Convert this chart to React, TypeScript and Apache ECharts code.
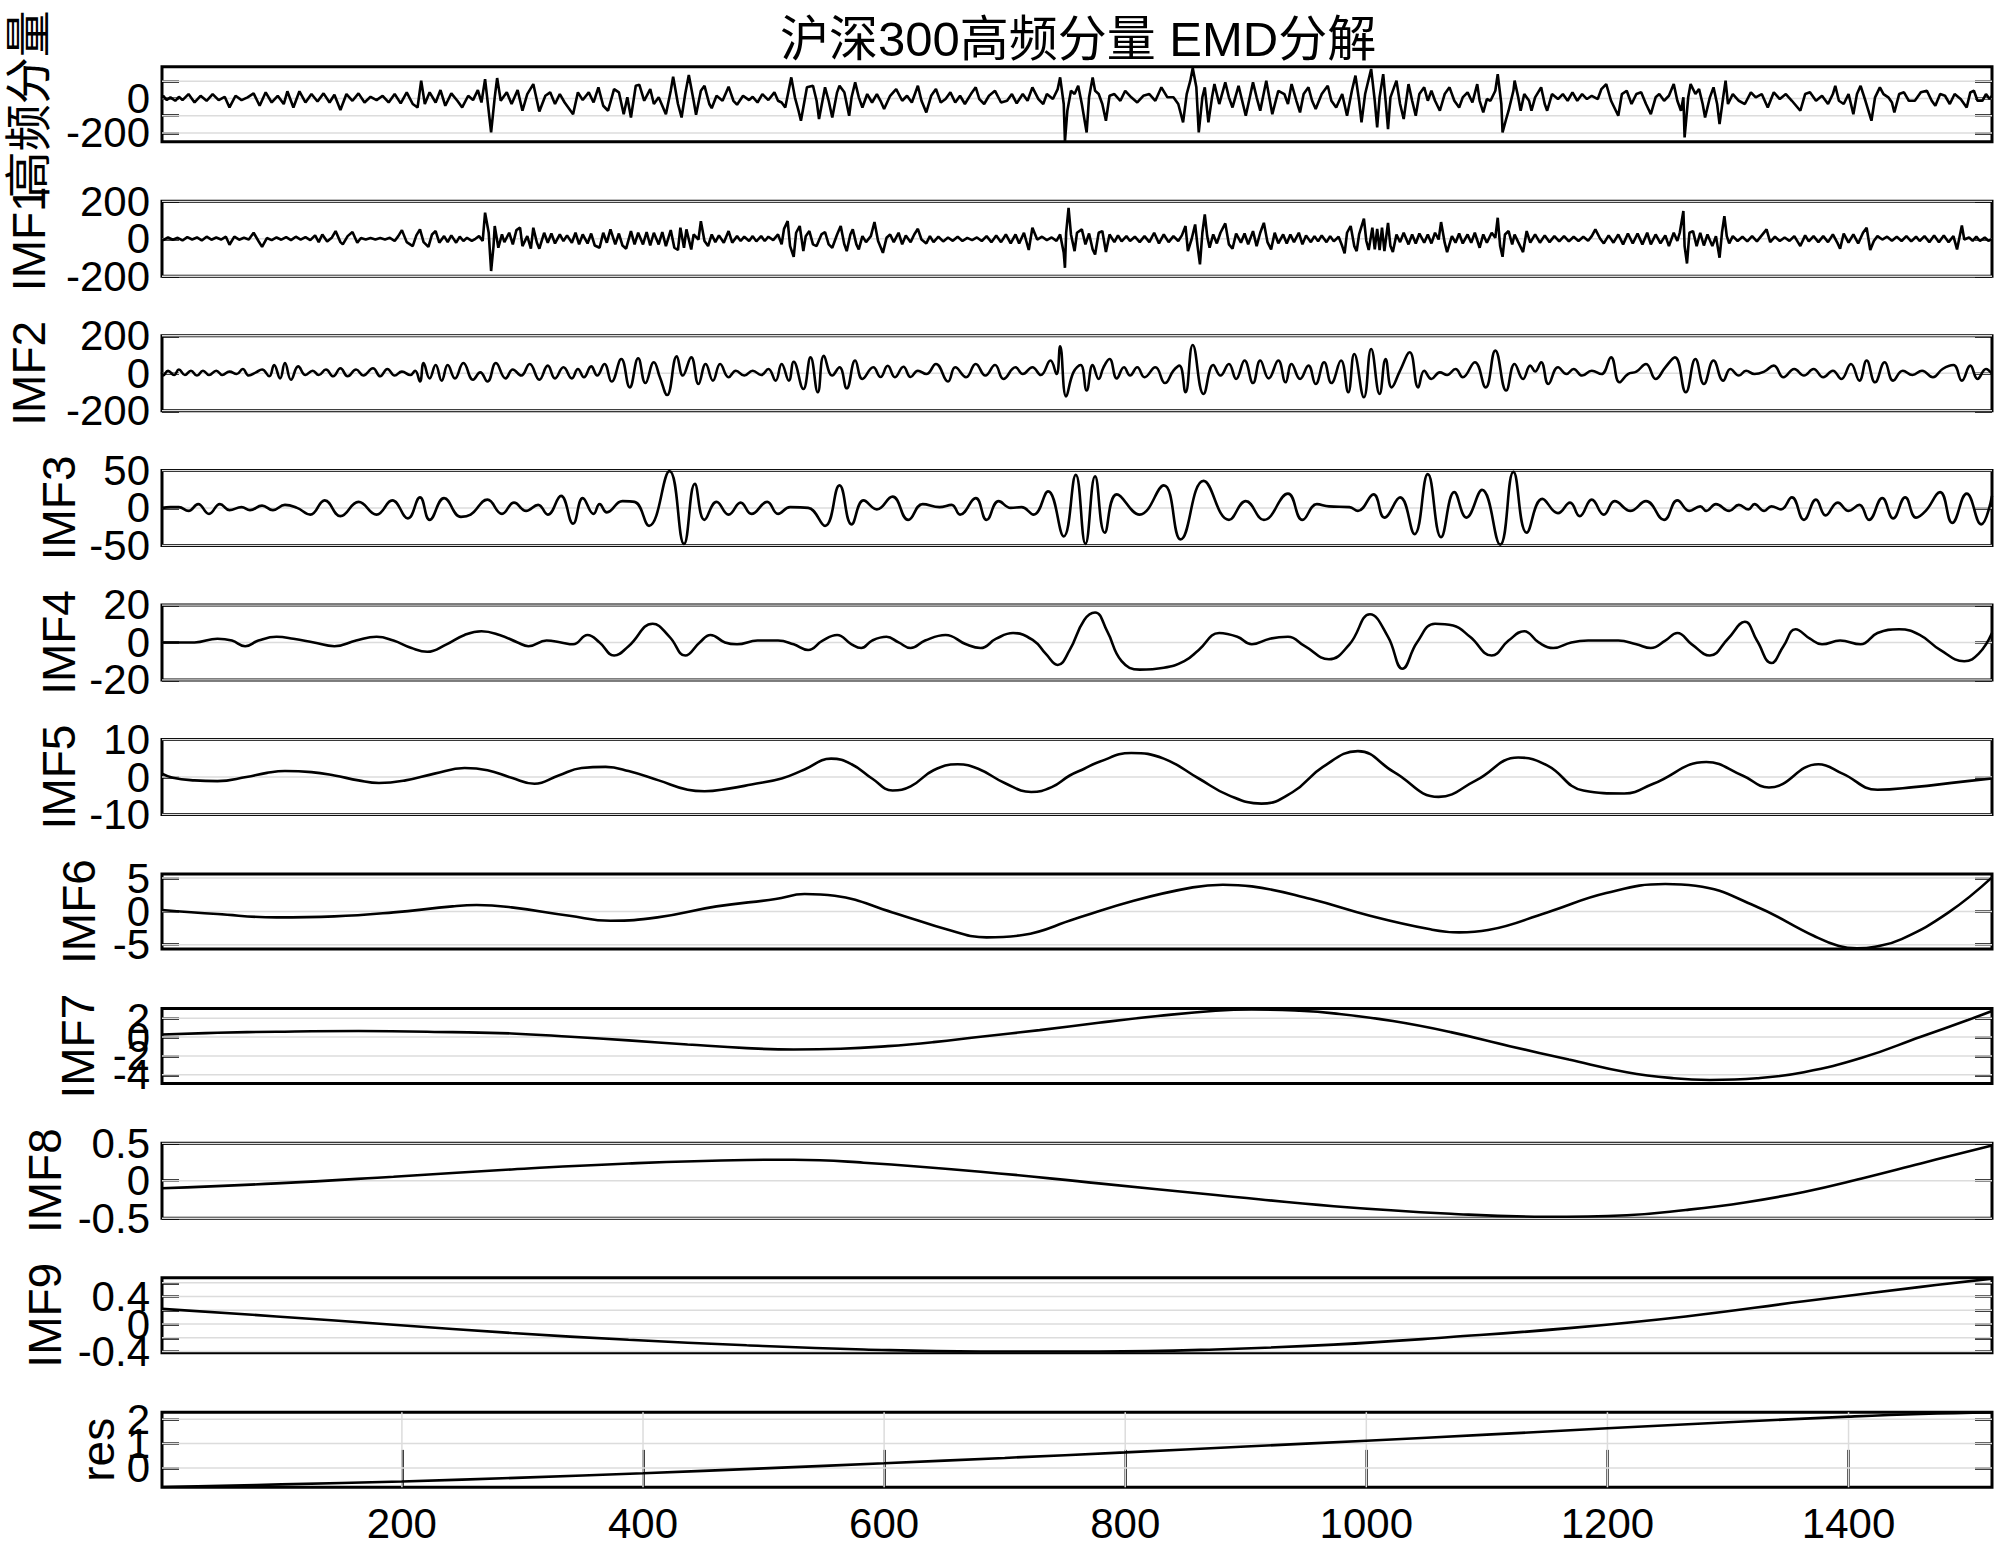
import React, { useEffect, useRef } from "react";
import * as echarts from "echarts";

// ---------------- data ----------------
const TITLE = "沪深300高频分量 EMD分解";
const NAMES = ["高频分量", "IMF1", "IMF2", "IMF3", "IMF4", "IMF5", "IMF6", "IMF7", "IMF8", "IMF9", "res"];

const HF = [
  [1,0],[2,16],[5,-9],[8,7],[12,-13],[15,10],[18,-9],[23,26],[28,-23],[33,16],[38,-13],[43,26],[48,-9],[53,10],[57,-52],[62,16],[67,-9],[72,7],[77,30],[82,-42],[87,36],[92,-23],[97,16],[102,-32],[105,42],[110,-52],[115,42],[120,-23],[125,26],[130,-17],[135,30],[140,-23],[144,22],[149,-67],[154,26],[159,-13],[164,30],[169,-23],[174,10],[179,-9],[184,16],[189,-23],[194,26],[199,-28],[204,36],[209,-32],[213,-52],[216,104],[219,-32],[223,36],[228,-23],[232,49],[236,-42],[241,30],[246,-13],[250,-52],[255,16],[259,-9],[263,49],[266,-23],[269,113],[274,-197],[277,7],[279,119],[282,-13],[287,36],[291,-32],[296,49],[300,-71],[304,26],[309,84],[314,-75],[319,16],[323,36],[327,-32],[331,26],[335,-23],[342,-91],[346,36],[350,-9],[355,36],[359,-23],[363,65],[367,-42],[371,-71],[376,55],[380,36],[384,-91],[387,7],[390,-110],[394,74],[397,80],[401,-13],[406,55],[409,-32],[413,7],[419,-91],[423,45],[425,127],[429,-32],[432,-110],[435,26],[438,137],[442,-13],[444,-95],[448,45],[451,74],[455,-32],[457,-56],[461,16],[466,-13],[471,69],[475,-13],[478,-36],[483,16],[488,-9],[491,10],[495,-23],[499,26],[504,-9],[509,36],[512,-13],
  [515,-23],[518,-52],[523,123],[526,7],[529,-71],[531,-129],[536,65],[541,74],[544,-13],[546,-119],[551,65],[554,-13],[557,-110],[561,36],[563,74],[567,36],[571,-100],[573,7],[576,94],[579,7],[582,-52],[586,26],[590,-23],[594,26],[597,-13],[600,-61],[605,16],[610,55],[615,-13],[619,16],[623,-23],[628,74],[631,-13],[635,-81],[639,16],[643,55],[647,-23],[651,-3],[655,36],[659,-23],[663,16],[667,-32],[672,26],[676,65],[679,-3],[683,-32],[687,16],[692,45],[697,-23],[702,-13],[706,26],[710,-28],[715,26],[719,-13],[723,65],[728,-3],[732,-32],[735,26],[740,-3],[744,55],[746,123],[749,-32],[750,-250],[752,-71],[755,45],[758,26],[761,74],[764,-32],[768,-197],[770,7],[773,123],[775,45],[778,26],[781,-32],[784,-129],[787,16],[791,26],[796,-13],[800,45],[805,7],[810,-23],[815,16],[820,26],[825,-13],[830,65],[835,7],[840,7],[844,-32],[848,-139],[851,26],[854,104],[856,177],[859,65],[861,-197],[864,7],[866,65],[869,-139],[872,7],[874,84],[878,-32],[883,94],[886,7],[889,-52],[894,74],[897,-13],[900,-100],[906,94],[909,7],[912,-71],[917,104],[920,-13],[922,-91],[927,45],[932,26],[935,-32],[938,84],[942,-13],[945,-81],[948,26],[952,65],[955,-13],[958,-61],[963,26],[968,74],[971,-13],[975,-52],[980,26],[984,-100],[988,45],[991,133],[994,-13],[996,-139],[999,26],[1004,172],[1007,-13],[1009,-168],[1011,7],[1014,142],[1016,-13],[1018,-178],
  [1020,7],[1025,104],[1028,-32],[1031,-119],[1035,84],[1038,-13],[1041,-100],[1044,26],[1048,65],[1051,-13],[1054,45],[1057,-13],[1061,-71],[1065,26],[1069,65],[1073,-13],[1077,-52],[1080,7],[1084,36],[1088,-23],[1092,84],[1094,-13],[1097,-81],[1100,-3],[1103,-13],[1107,45],[1109,142],[1112,-32],[1113,-197],[1116,-119],[1118,-71],[1122,45],[1123,104],[1126,7],[1128,-71],[1131,26],[1135,-13],[1137,-71],[1140,7],[1145,65],[1148,-32],[1150,-71],[1154,26],[1159,-3],[1163,26],[1167,-13],[1171,36],[1175,-13],[1179,26],[1183,-3],[1187,16],[1192,-3],[1195,55],[1199,84],[1203,-13],[1209,-100],[1212,26],[1216,45],[1220,-32],[1224,26],[1228,36],[1232,-32],[1236,-91],[1240,7],[1243,26],[1247,-13],[1251,16],[1255,84],[1258,-13],[1261,-71],[1263,7],[1264,-226],[1267,7],[1269,84],[1273,26],[1276,55],[1279,-32],[1281,-110],[1285,7],[1288,65],[1291,-32],[1293,-149],[1296,7],[1298,104],[1300,-32],[1304,26],[1309,-13],[1314,-32],[1319,36],[1323,7],[1328,26],[1333,-52],[1338,36],[1343,-3],[1348,26],[1353,-13],[1360,-71],[1364,26],[1368,36],[1373,-13],[1378,16],[1383,-32],[1387,26],[1389,74],[1392,-13],[1396,-32],[1400,26],[1404,-91],[1407,26],[1410,74],[1414,-13],[1419,-129],[1422,7],[1426,65],[1429,26],[1433,7],[1436,-23],[1438,-81],[1442,26],[1446,36],[1450,-13],[1455,-13],[1460,36],[1465,45],[1469,-13],[1472,-42],[1476,26],[1480,16],[1484,-32],[1488,26],[1493,-3],[1498,-52],[1501,36],[1504,45],[1507,-13],[1511,-13],[1514,26],[1517,-3],[1519,16]
];

const IMF1 = [
  [1,0],[2,-7],[6,7],[10,-5],[14,5],[18,-9],[22,9],[26,-4],[30,7],[34,-9],[38,11],[42,-5],[46,7],[50,-4],[54,11],[57,-32],[61,11],[65,-5],[69,5],[73,-4],[77,32],[81,-12],[84,-43],[88,4],[92,-7],[96,7],[100,-5],[104,9],[108,-7],[112,11],[116,-5],[120,9],[124,-7],[128,18],[131,-18],[134,23],[138,-14],[142,7],[145,41],[149,-18],[151,-30],[155,14],[159,36],[163,-21],[166,4],[170,-4],[174,4],[178,-4],[182,4],[186,-4],[190,5],[194,-12],[197,14],[200,46],[204,-18],[209,-39],[212,18],[215,50],[218,-18],[222,-43],[225,23],[228,41],[231,-21],[235,14],[238,-18],[241,18],[245,-21],[248,11],[251,-12],[254,5],[258,-11],[261,0],[264,14],[267,-12],[269,139],[272,32],[274,-172],[276,-39],[277,68],[280,-48],[283,23],[285,-18],[289,32],[292,-30],[295,46],[298,59],[300,-39],[304,14],[307,-53],[309,59],[312,-21],[314,-53],[318,32],[321,-21],[324,28],[327,-25],[331,23],[334,-12],[337,18],[341,-21],[344,32],[347,-30],[350,23],[354,-25],[357,28],[360,-36],[364,-48],[367,32],[370,-21],[373,50],[377,-30],[380,28],[383,-36],[386,-53],[390,41],[393,-30],[396,32],[400,-30],[403,36],[406,-36],[409,32],[413,-30],[416,36],[419,-39],[423,46],[426,-48],[429,-60],[431,59],[434,-48],[436,50],[440,-57],[442,23],[446,-4],[448,94],[451,-12],[454,-39],[457,23],[460,-18],[463,18],[467,-21],[471,41],[474,-21],[478,14],[481,-12],[484,11],[488,-12],[491,14],[494,-14],[498,14],[501,-12],[504,11],
  [508,-7],[512,23],[515,-30],[517,53],[520,94],[522,-39],[525,-96],[527,32],[530,68],[533,-66],[535,14],[538,41],[541,-30],[544,-39],[548,23],[551,36],[554,-30],[557,-48],[561,23],[564,68],[567,-30],[569,-66],[572,23],[574,50],[577,-30],[579,-57],[582,14],[585,-18],[589,14],[592,89],[595,-12],[599,-75],[602,5],[605,23],[608,-18],[612,32],[615,-30],[618,18],[622,-18],[625,23],[628,53],[631,-4],[635,-25],[638,14],[641,-18],[645,11],[649,-14],[653,7],[657,-11],[661,11],[665,-12],[669,5],[673,-7],[677,7],[681,-12],[685,14],[689,-18],[693,18],[697,-18],[701,23],[705,-25],[709,23],[712,-25],[716,32],[720,-60],[723,59],[727,-4],[731,11],[735,-7],[739,7],[743,-11],[746,23],[749,-75],[750,-155],[751,32],[753,165],[755,23],[758,-66],[760,32],[764,50],[767,-30],[770,28],[773,-57],[775,-84],[778,32],[781,41],[784,-71],[787,23],[791,-18],[794,18],[797,-14],[801,14],[804,-12],[808,11],[812,-18],[816,14],[820,-18],[824,32],[828,-25],[832,23],[836,-18],[840,14],[844,-12],[847,18],[850,68],[852,-66],[855,-4],[858,76],[860,-39],[862,-137],[864,32],[866,130],[868,14],[870,-48],[873,23],[876,-25],[879,32],[883,82],[886,-30],[889,-53],[892,28],[896,-21],[899,28],[902,-30],[906,41],[909,-39],[912,32],[915,85],[918,-18],[921,-57],[924,32],[927,-25],[931,23],[934,-25],[937,23],[940,-18],[944,32],[947,-30],[950,18],[954,-18],[957,14],[960,-14],[963,18],[967,-18],[970,14],[973,-14],[977,11],[980,-39],[982,-78],[984,32],[987,68],[990,-39],[992,-66],[994,23],[998,107],[1000,-12],[1002,-60],[1005,59],[1007,-57],[1009,53],[1011,-60],
  [1013,59],[1015,-66],[1018,85],[1020,-39],[1022,-71],[1025,23],[1028,-18],[1031,32],[1035,-30],[1038,23],[1041,-25],[1044,28],[1048,-21],[1051,23],[1054,-25],[1057,32],[1060,-4],[1062,89],[1065,-21],[1067,-71],[1071,14],[1074,-21],[1077,28],[1080,-25],[1084,23],[1087,-21],[1090,32],[1094,-48],[1097,23],[1100,-21],[1104,32],[1107,5],[1109,112],[1111,-39],[1113,-96],[1115,23],[1118,41],[1121,-30],[1123,23],[1126,-18],[1130,-71],[1133,41],[1136,-21],[1140,23],[1144,-21],[1148,18],[1152,-18],[1156,14],[1160,-14],[1164,14],[1168,-14],[1172,11],[1176,-12],[1180,11],[1184,-11],[1187,14],[1190,50],[1194,0],[1197,-25],[1201,18],[1205,-21],[1209,23],[1213,-30],[1217,28],[1221,-25],[1225,28],[1229,-30],[1233,32],[1236,-30],[1240,23],[1244,-25],[1248,18],[1251,-39],[1255,32],[1258,-12],[1260,32],[1263,148],[1264,-39],[1266,-132],[1268,32],[1271,41],[1274,-39],[1277,32],[1280,-36],[1283,23],[1287,-39],[1290,14],[1293,-101],[1295,32],[1297,121],[1299,14],[1301,-25],[1304,14],[1308,-12],[1312,11],[1316,-14],[1320,14],[1324,-14],[1328,18],[1332,50],[1335,-18],[1339,11],[1343,-12],[1347,7],[1351,-11],[1355,14],[1358,-18],[1360,-39],[1364,18],[1367,-14],[1371,14],[1375,-18],[1379,14],[1383,-18],[1387,23],[1391,-25],[1393,-53],[1396,28],[1400,-21],[1404,23],[1408,-25],[1412,32],[1415,59],[1418,-60],[1421,-12],[1424,14],[1428,-4],[1432,11],[1436,-11],[1440,11],[1444,-12],[1448,14],[1452,-14],[1456,11],[1459,-12],[1463,14],[1467,-18],[1471,18],[1475,-18],[1479,18],[1483,-18],[1487,14],[1490,-57],[1494,71],[1496,-4],[1500,7],[1503,-11],[1506,11],[1509,-12],[1513,7],[1516,-11],[1519,0]
];

const IMF2 = [
  [1,5],[2,-12],[6,14],[11,-9],[15,20],[20,-9],[25,14],[30,-12],[35,14],[40,-9],[46,14],[51,-9],[57,9],[63,-4],[68,23],[73,-12],[79,5],[84,20],[90,-16],[94,44],[99,-27],[103,55],[108,-34],[114,37],[120,-9],[126,14],[131,-9],[137,20],[143,-16],[149,27],[155,-16],[162,20],[168,-12],[176,27],[182,-16],[188,23],[194,-12],[200,9],[207,-9],[211,14],[215,-44],[218,55],[223,-27],[228,44],[233,-39],[238,44],[244,-27],[251,55],[259,-34],[265,5],[271,-44],[278,55],[286,-27],[292,20],[299,-12],[306,50],[314,-34],[321,41],[327,-27],[334,32],[341,-27],[346,23],[351,-21],[357,37],[362,-12],[368,50],[374,-44],[382,76],[389,-75],[396,80],[402,-52],[409,59],[414,-21],[420,-116],[428,91],[433,-12],[440,85],[446,-57],[452,50],[458,-39],[464,50],[471,-21],[477,14],[484,-12],[491,14],[498,-9],[504,23],
  [510,-39],[515,50],[521,-39],[525,62],[533,-84],[539,85],[545,-101],[550,94],[557,-12],[563,32],[569,-80],[576,68],[582,-30],[591,32],[597,-20],[603,40],[609,-21],[616,35],[622,-20],[628,14],[635,-4],[643,50],[653,-44],[659,32],[668,-21],[676,50],[684,-12],[692,44],[699,-30],[709,32],[715,-4],[723,32],[730,-9],[738,68],[743,-4],[746,144],[751,-123],[757,5],[763,44],[768,-92],[773,44],[778,-30],[782,32],[787,76],[793,-27],[799,32],[804,-12],[810,32],[816,-21],[825,32],[833,-52],[840,14],[845,41],[850,-101],[856,151],[865,-110],[873,44],[879,-12],[886,50],[892,-30],[899,68],[906,-52],[912,68],[919,-27],[927,68],[933,-48],[938,50],[945,-30],[952,41],[958,-57],[965,59],[971,-52],[979,68],[985,-101],[990,103],[998,-128],[1004,130],[1011,-110],[1016,76],[1021,-75],[1028,14],[1036,112],[1043,-75],[1048,14],[1054,-30],[1061,5],[1067,-9],[1074,23],[1080,-21],[1090,59],[1099,-75],[1107,121],[1116,-92],[1123,50],[1130,-30],[1136,41],[1140,10],[1145,59],[1151,-57],[1159,32],[1166,-4],[1172,23],[1179,-12],[1187,14],[1195,-4],[1203,85],[1210,-48],[1217,-4],[1224,9],[1232,50],[1240,-30],[1248,32],[1256,85],[1265,-101],[1273,76],[1280,-57],[1288,68],[1296,-39],[1302,23],[1309,-12],[1315,14],[1322,-4],[1330,9],[1338,41],[1346,-21],[1355,23],[1363,-12],[1371,23],[1379,-21],[1387,14],[1394,-30],[1402,50],[1409,-39],[1415,68],[1422,-48],[1430,59],[1437,-39],[1445,14],[1453,-9],[1461,14],[1470,-21],[1478,23],[1487,44],[1494,-39],[1501,41],[1507,-30],[1514,23],[1519,-4]
];

const IMF3 = [
  [1,0],[8,1],[15,1],[23,-4],[31,5],[40,-8],[49,5],[57,-3],[67,1],[74,-3],[84,3],[93,-3],[103,4],[113,0],[124,-9],[136,10],[149,-11],[164,8],[179,-9],[192,10],[205,-14],[215,14],[223,-16],[235,13],[249,-12],[257,-9],[271,11],[283,-8],[293,7],[303,-4],[313,4],[321,-9],[332,16],[342,-21],[350,13],[359,-8],[364,5],[370,-6],[383,9],[393,8],[405,-24],[422,49],[434,-48],[443,32],[451,-16],[461,8],[471,-9],[481,7],[490,-8],[503,8],[512,-8],[522,1],[537,0],[551,-24],[563,30],[573,-22],[583,10],[594,-2],[607,15],[620,-16],[632,5],[646,1],[656,4],[663,-9],[676,13],[685,-16],[695,9],[705,0],[714,1],[724,-9],[736,22],[749,-38],[759,44],[767,-48],[775,42],[783,-33],[793,18],[812,-9],[832,30],[846,-42],[865,36],[886,-16],[900,9],[915,-16],[935,19],[947,-16],[959,5],[969,2],[986,1],[993,-4],[1006,18],[1015,-13],[1028,14],[1040,-35],[1051,45],[1062,-39],[1073,21],[1083,-13],[1096,24],[1111,-49],[1122,48],[1133,-33],[1146,12],[1159,-7],[1169,7],[1177,-11],[1187,11],[1197,-9],[1206,9],[1219,-4],[1232,9],[1247,-16],[1258,10],[1268,-4],[1277,2],[1282,-4],[1290,5],[1301,-4],[1309,4],[1317,-2],[1322,5],[1330,-4],[1336,2],[1344,-2],[1353,14],[1363,-16],[1373,11],[1381,-10],[1391,7],[1400,-4],[1409,4],[1417,-16],[1428,13],[1437,-14],[1447,14],[1456,-13],[1464,-4],[1476,21],[1486,-20],[1498,19],[1510,-22],[1519,16]
];

const IMF4 = [
  [1,0],[13,0],[28,0],[47,2],[59,1],[70,-2],[81,1],[96,3],[110,2],[127,0],[144,-2],[162,1],[179,3],[193,1],[208,-3],[221,-5],[237,-1],[252,4],[266,6],[281,4],[296,0],[305,-2],[320,1],[332,0],[342,-1],[354,4],[364,0],[376,-7],[388,-2],[408,10],[422,3],[435,-7],[447,0],[456,4],[468,0],[478,-1],[495,1],[512,1],[525,-1],[537,-4],[549,1],[561,4],[573,-1],[581,-3],[590,1],[602,3],[612,0],[622,-3],[634,1],[651,4],[668,-1],[680,-3],[693,2],[707,5],[724,1],[734,-6],[744,-12],[754,-4],[766,12],[775,16],[785,6],[797,-10],[812,-14.5],[832,-13.5],[849,-10],[861,-4],[878,5],[893,3],[905,-1],[920,2],[935,3],[949,-2],[969,-9],[986,-1],[1003,15],[1018,3],[1030,-14],[1042,0],[1057,10],[1072,9],[1086,3],[1104,-7],[1118,1],[1131,6],[1143,0],[1155,-3],[1170,0],[1184,1],[1209,1],[1224,-1],[1236,-3],[1248,1],[1258,5],[1270,-1],[1285,-7],[1300,2],[1314,11],[1324,1],[1336,-11],[1346,-2],[1356,7],[1368,2],[1378,-1],[1393,1],[1410,-1],[1424,5],[1442,7],[1459,4],[1476,-4],[1496,-10],[1508,-6],[1519,5]
];

const IMF5 = [
  [1,0.9],[10,-0.2],[28,-0.9],[47,-1.1],[71,0],[88,1.1],[103,1.6],[125,1.3],[144,0.4],[164,-0.9],[181,-1.6],[203,-0.9],[227,0.9],[252,2.4],[271,1.8],[291,-0.2],[310,-1.8],[330,0.4],[349,2.4],[369,2.7],[388,1.6],[413,-0.9],[437,-3.4],[451,-3.8],[471,-3.1],[490,-2.0],[515,-0.4],[534,2.0],[556,4.9],[573,3.4],[590,-0.4],[607,-3.6],[622,-2.5],[641,1.8],[661,3.4],[678,2.2],[700,-1.6],[722,-4.0],[739,-2.7],[754,0.4],[766,2.2],[778,4.0],[805,6.4],[832,4.9],[861,-0.4],[886,-4.9],[913,-7.1],[939,-4.0],[964,2.7],[993,6.9],[1023,1.3],[1060,-5.3],[1091,-0.9],[1126,5.2],[1150,3.1],[1180,-3.6],[1214,-4.4],[1238,-1.8],[1282,4.0],[1312,0.4],[1334,-2.8],[1375,3.4],[1395,0.9],[1424,-3.4],[1454,-2.7],[1493,-1.3],[1519,-0.4]
];

const IMF6 = [
  [1,0.2],[47,-0.4],[96,-0.9],[144,-0.75],[193,-0.15],[242,0.75],[262,0.95],[291,0.6],[339,-0.65],[373,-1.4],[412,-0.9],[461,0.75],[510,1.85],[534,2.6],[559,2.35],[607,-0.15],[656,-2.9],[685,-3.9],[715,-3.55],[758,-1.15],[807,1.6],[856,3.6],[881,4.0],[905,3.75],[954,1.85],[1003,-0.65],[1052,-2.65],[1077,-3.15],[1101,-2.8],[1150,-0.15],[1199,2.75],[1248,4.1],[1273,3.85],[1322,0.85],[1371,-3.65],[1392,-5.2],[1407,-5.55],[1422,-5.3],[1444,-4.15],[1483,-0.15],[1519,5.1]
];

const IMF7 = [
  [1,0.28],[47,0.46],[96,0.57],[164,0.64],[242,0.53],[291,0.39],[340,0.04],[388,-0.35],[437,-0.78],[486,-1.17],[525,-1.31],[564,-1.24],[603,-0.96],[641,-0.53],[680,0.04],[729,0.74],[778,1.52],[827,2.23],[875,2.8],[905,2.94],[944,2.8],[973,2.52],[1022,1.7],[1070,0.53],[1119,-0.96],[1168,-2.38],[1216,-3.72],[1255,-4.36],[1285,-4.54],[1324,-4.36],[1363,-3.72],[1411,-2.2],[1460,0.04],[1499,1.81],[1519,2.77]
];

const IMF8 = [
  [1,-0.1],[96,-0.036],[193,0.053],[291,0.15],[388,0.23],[486,0.276],[525,0.28],[583,0.24],[680,0.12],[778,-0.036],[875,-0.19],[973,-0.34],[1070,-0.44],[1148,-0.48],[1216,-0.46],[1265,-0.39],[1314,-0.29],[1363,-0.15],[1411,0.03],[1460,0.23],[1519,0.47]
];

const IMF9 = [
  [1,0.22],[96,0.11],[193,-0.01],[291,-0.13],[388,-0.23],[486,-0.31],[583,-0.37],[680,-0.4],[778,-0.4],[875,-0.37],[973,-0.3],[1070,-0.19],[1168,-0.06],[1265,0.11],[1363,0.33],[1460,0.54],[1519,0.66]
];

const RES = [
  [1,-0.79],[100,-0.68],[200,-0.56],[300,-0.4],[400,-0.22],[500,-0.02],[600,0.19],[700,0.41],[800,0.64],[900,0.88],[1000,1.12],[1100,1.37],[1200,1.63],[1300,1.88],[1400,2.11],[1460,2.22],[1519,2.28]
];

const SERIES_DATA = [HF, IMF1, IMF2, IMF3, IMF4, IMF5, IMF6, IMF7, IMF8, IMF9, RES];
const SMOOTH = [false, false, true, true, true, true, true, true, true, true, true];

const Y_MIN = [-251, -200, -200, -50, -20, -10, -5.65, -4.93, -0.5, -0.418, -0.8];
const Y_MAX = [185, 200, 200, 50, 20, 10, 5.6, 3.02, 0.5, 0.673, 2.29];
const Y_TICKS = [
  [-200, -100, 0, 100],
  [-200, 0, 200],
  [-200, 0, 200],
  [-50, 0, 50],
  [-20, 0, 20],
  [-10, 0, 10],
  [-5, 0, 5],
  [-4, -2, 0, 2],
  [-0.5, 0, 0.5],
  [-0.4, -0.2, 0, 0.2, 0.4, 0.6],
  [0, 1, 2],
];
const Y_LABELS = [
  [-200, 0],
  [-200, 0, 200],
  [-200, 0, 200],
  [-50, 0, 50],
  [-20, 0, 20],
  [-10, 0, 10],
  [-5, 0, 5],
  [-4, -2, 0, 2],
  [-0.5, 0, 0.5],
  [-0.4, 0, 0.4],
  [0, 1, 2],
];
const X_MIN = 1;
const X_MAX = 1519;
const X_TICKS = [200, 400, 600, 800, 1000, 1200, 1400];

// ---------------- layout / style ----------------
const LEFT = 162;
const WIDTH = 1830;
const TOP0 = 66.7;
const STEP = 134.56;
const HEIGHT = 75;
const YLABEL_X = [28, 29, 29, 59, 59, 59, 79, 78, 45, 45, 98];
const LATIN = "'Liberation Sans', Arial, Helvetica, sans-serif";
const MIXED = "'Liberation Sans', Arial, 'Noto Sans CJK SC', sans-serif";
const GRID_COLOR = "#dcdcdc";

export default function App() {
  const ref = useRef<HTMLDivElement>(null);

  useEffect(() => {
    document.body.style.margin = "0";
    const chart = echarts.init(ref.current as HTMLDivElement, undefined, { renderer: "svg" });
    const n = SERIES_DATA.length;
    const grids: any[] = [];
    const xAxes: any[] = [];
    const yAxes: any[] = [];
    const series: any[] = [];
    const graphics: any[] = [];
    const fmt = (v: number) => String(v);

    for (let i = 0; i < n; i++) {
      const top = TOP0 + STEP * i;
      const last = i === n - 1;
      grids.push({
        left: LEFT, top, width: WIDTH, height: HEIGHT,
        show: true, borderColor: "#000", borderWidth: 3,
        backgroundColor: "rgba(0,0,0,0)", containLabel: false, outerBoundsMode: "none",
      });
      xAxes.push({
        type: "value", gridIndex: i, min: X_MIN, max: X_MAX, position: "bottom",
        show: last,
        axisLine: { show: false },
        splitLine: { show: false },
        axisTick: { show: last, inside: true, length: 18, lineStyle: { color: "#000", width: 2.5 }, customValues: X_TICKS },
        axisLabel: {
          show: last, customValues: X_TICKS, fontSize: 42, color: "#000", fontFamily: LATIN, margin: 15,
          showMinLabel: true, showMaxLabel: true, hideOverlap: false, formatter: fmt,
        },
      });
      const tickCommon = { show: true, inside: true, length: 17, lineStyle: { color: "#000", width: 2.5 }, customValues: Y_TICKS[i] };
      const base = yAxes.length;
      // left axis carrying the ticks (series use it)
      yAxes.push({
        type: "value", gridIndex: i, position: "left", min: Y_MIN[i], max: Y_MAX[i],
        axisLine: { show: false }, splitLine: { show: false },
        axisTick: tickCommon,
        axisLabel: { show: false },
      });
      // right axis with mirrored ticks
      yAxes.push({
        type: "value", gridIndex: i, position: "right", min: Y_MIN[i], max: Y_MAX[i],
        axisLine: { show: false }, splitLine: { show: false },
        axisTick: tickCommon,
        axisLabel: { show: false },
      });
      // one label-only axis per tick label so that none of them gets hidden as overlapping
      Y_LABELS[i].forEach((lv) => {
        yAxes.push({
          type: "value", gridIndex: i, position: "left", min: Y_MIN[i], max: Y_MAX[i],
          axisLine: { show: false }, splitLine: { show: false }, axisTick: { show: false },
          axisLabel: {
            show: true, customValues: [lv], fontSize: 42, color: "#000", fontFamily: LATIN,
            margin: 12, padding: [8, 0, 0, 0], formatter: fmt,
            showMinLabel: true, showMaxLabel: true, hideOverlap: false,
          },
        });
      });
      // horizontal grid lines at tick values
      Y_TICKS[i].forEach((v) => {
        series.push({
          type: "line", xAxisIndex: i, yAxisIndex: base, silent: true, z: 1,
          symbol: "none", data: [[X_MIN, v], [X_MAX, v]],
          lineStyle: { color: GRID_COLOR, width: 1.5 },
        });
      });
      if (last) {
        X_TICKS.forEach((t) => {
          series.push({
            type: "line", xAxisIndex: i, yAxisIndex: base, silent: true, z: 1,
            symbol: "none", data: [[t, Y_MIN[i]], [t, Y_MAX[i]]],
            lineStyle: { color: GRID_COLOR, width: 1.5 },
          });
        });
      }
      series.push({
        type: "line", name: NAMES[i], xAxisIndex: i, yAxisIndex: base, z: 3,
        symbol: "none", showSymbol: false, smooth: SMOOTH[i] ? 0.45 : false,
        data: SERIES_DATA[i],
        lineStyle: { color: "#000", width: 2.6 },
      });
      graphics.push({
        type: "text", x: YLABEL_X[i], y: top + HEIGHT / 2, rotation: Math.PI / 2, z: 10,
        style: {
          text: NAMES[i], fontSize: i === 0 ? 47 : 46, fontFamily: MIXED, fill: "#000",
          align: "center", verticalAlign: "middle", textAlign: "center", textVerticalAlign: "middle",
        },
      });
    }
    // top ticks of the last panel
    xAxes.push({
      type: "value", gridIndex: n - 1, min: X_MIN, max: X_MAX, position: "top",
      axisLine: { show: false }, splitLine: { show: false },
      axisTick: { show: true, inside: true, length: 18, lineStyle: { color: "#000", width: 2.5 }, customValues: X_TICKS },
      axisLabel: { show: false },
    });
    graphics.push({
      type: "text", x: LEFT + WIDTH / 2 + 1, y: 39, z: 10,
      style: {
        text: TITLE, fontSize: 49, fontFamily: MIXED, fill: "#000",
        align: "center", verticalAlign: "middle", textAlign: "center", textVerticalAlign: "middle",
      },
    });

    chart.setOption({
      animation: false,
      backgroundColor: "#fff",
      grid: grids,
      xAxis: xAxes,
      yAxis: yAxes,
      series,
      graphic: graphics,
    });
    return () => chart.dispose();
  }, []);

  return <div ref={ref} style={{ width: 2000, height: 1550 }} />;
}
